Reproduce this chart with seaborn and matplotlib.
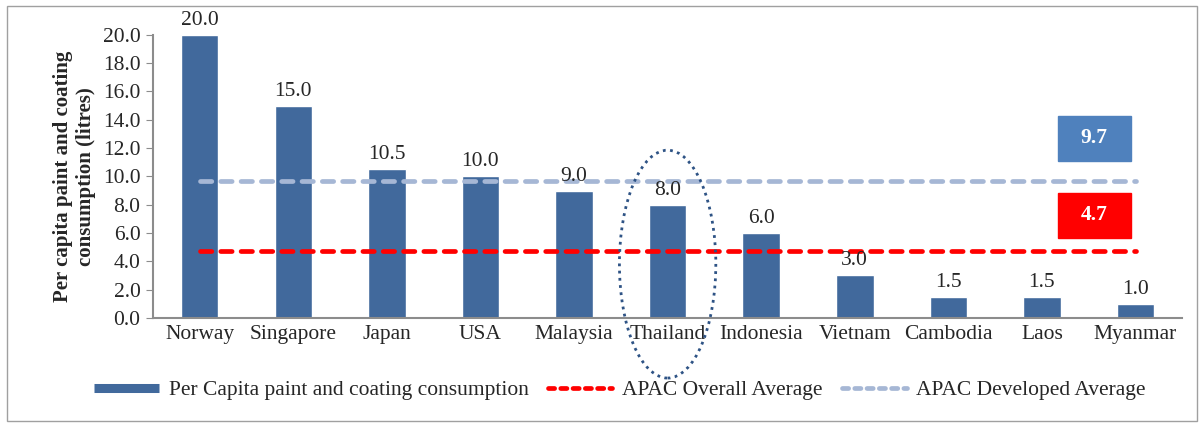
import matplotlib
matplotlib.use("Agg")
import matplotlib.pyplot as plt
import seaborn as sns
import numpy as np
from matplotlib.patches import Ellipse, Rectangle
from matplotlib.lines import Line2D

countries = ["Norway", "Singapore", "Japan", "USA", "Malaysia", "Thailand",
             "Indonesia", "Vietnam", "Cambodia", "Laos", "Myanmar"]
consumption = [20.0, 15.0, 10.5, 10.0, 9.0, 8.0, 6.0, 3.0, 1.5, 1.5, 1.0]
overall_avg = 4.7
developed_avg = 9.7

sns.set_style("white")
plt.rcParams["font.family"] = ["Liberation Serif", "DejaVu Serif"]

bar_col = "#41699c"
red = "#ff0000"
light = "#a6b7d5"
box_blue = "#4f81bd"
gray = "#8c8c8c"
fs = 15.5

fig = plt.figure(figsize=(12.04, 4.25), dpi=100)
ax = fig.add_axes([0.127, 0.252, 0.855, 0.666])

sns.barplot(x=countries, y=consumption, color=bar_col, width=0.40,
            saturation=1, ax=ax, zorder=2)

n = len(countries)
ax.plot([0, n - 1], [overall_avg, overall_avg], color=red, lw=3.4,
        dashes=(2.4, 1.9), dash_capstyle="round", zorder=3)
ax.plot([0, n - 1], [developed_avg, developed_avg], color=light, lw=3.4,
        dashes=(2.4, 1.9), dash_capstyle="round", zorder=3)

for i, v in enumerate(consumption):
    ax.text(i, v + 0.35, f"{v:.1f}", ha="center", va="bottom", fontsize=fs)

ax.set_ylim(0, 20)
ax.set_xlim(-0.5, n - 0.5)
ax.set_yticks(np.arange(0, 20.1, 2))
ax.set_yticklabels([f"{t:.1f}" for t in np.arange(0, 20.1, 2)])
ax.set_xticks(np.arange(-0.5, n, 1), minor=True)
ax.tick_params(axis="x", which="major", length=0, labelsize=fs, pad=5)
ax.tick_params(axis="x", which="minor", length=5, color=gray, direction="out")
ax.tick_params(axis="y", length=5, color=gray, direction="out", labelsize=fs,
               left=True, pad=4)
ax.set_xlabel("")
ax.set_ylabel("Per capita paint and coating\nconsumption (litres)",
              fontsize=15, fontweight="bold", labelpad=5, linespacing=1.2)
for s in ["top", "right"]:
    ax.spines[s].set_visible(False)
for s in ["left", "bottom"]:
    ax.spines[s].set_color(gray)
    ax.spines[s].set_linewidth(1.5)

# value boxes at the right
for y0, val, col in [(11.1, developed_avg, box_blue), (5.65, overall_avg, red)]:
    ax.add_patch(Rectangle((9.17, y0), 0.78, 3.2, color=col, zorder=4, clip_on=False))
    ax.text(9.56, y0 + 1.6, f"{val:.1f}", color="white", fontsize=fs,
            fontweight="bold", ha="center", va="center", zorder=5)

# dotted ellipse around Thailand
ax.add_patch(Ellipse((5.0, 3.8), 1.03, 16.1, fill=False, ec="#2e5385",
                     lw=2, ls=(0, (1, 1.6)), clip_on=False, zorder=5))

handles = [Line2D([], [], color=bar_col, lw=6.5, solid_capstyle="butt"),
           Line2D([], [], color=red, lw=3.4, dashes=(1.3, 1.3), dash_capstyle="round"),
           Line2D([], [], color=light, lw=3.4, dashes=(1.3, 1.3), dash_capstyle="round")]
labels = ["Per Capita paint and coating consumption", "APAC Overall Average",
          "APAC Developed Average"]
fig.legend(handles, labels, loc="center", bbox_to_anchor=(0.515, 0.082), ncol=3,
           frameon=False, fontsize=fs, handlelength=3.0, columnspacing=0.9,
           handletextpad=0.45)

fig.add_artist(Rectangle((0.006, 0.01), 0.988, 0.975, transform=fig.transFigure,
                         fill=False, ec="#a0a0a0", lw=1))

fig.savefig("out.png", dpi=100)
